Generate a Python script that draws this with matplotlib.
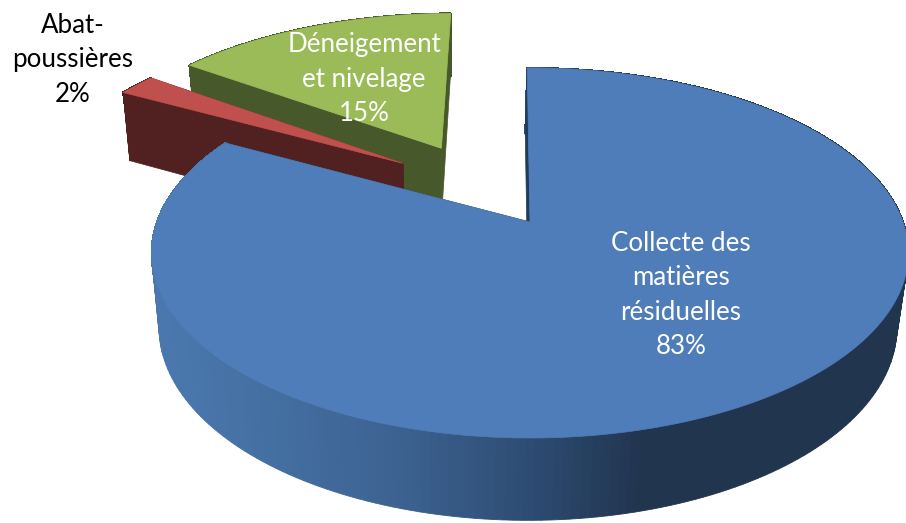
import numpy as np
from matplotlib import pyplot as plt
from matplotlib.colors import to_rgb

plt.rcParams['font.family'] = ['Lato', 'DejaVu Sans']

# slices, clockwise from the top
noms = ['Collecte des\nmatières\nrésiduelles', 'Abat-\npoussières', 'Déneigement\net nivelage']
valeurs = [83, 2, 15]
couleurs_dessus = ['#4f7db9', '#c0504d', '#9bbb59']
couleurs_face = ['#1f3a5f', '#512020', '#47592a']
couleurs_texte = ['white', 'black', 'white']
pos_texte = [(681, 295), (73, 60), (364, 79)]

# how far each slice is pulled out of the pie
ecart_u = [0, -0.36, -0.255]
ecart_v = [0, 0.345, 0.44]

# fake 3d camera, everything in pixels
cx, cy = 530, 222
R = 373
sR = 179.8
k = 0.1676
h = 76
m = 0.025
decal = -2


def dessus(u, v):
    w = 1 + k * v
    return cx + R * u / w, cy - sR * v / w


def dessous(u, v, marge=0):
    w = 1 + k * v + m
    return cx + decal + (R - marge) * u / w, cy + (h - sR * v) / w - marge


def degrade(x):
    # side wall gets darker going right
    pts = [(160, '#4a78ae'), (300, '#426c9e'), (400, '#3c6290'), (540, '#2c4a70'), (640, '#22354f'), (906, '#22354f')]
    xs = [p[0] for p in pts]
    rgb = np.array([to_rgb(p[1]) for p in pts])
    return tuple(np.interp(x, xs, rgb[:, i]) for i in range(3))


fig = plt.figure(figsize=(9.06, 5.23), dpi=100)
ax = fig.add_axes([0, 0, 1, 1])
ax.set_xlim(0, 906)
ax.set_ylim(523, 0)
ax.axis('off')

bornes = np.cumsum([0] + valeurs) * 360 / sum(valeurs)
bornes = bornes - 0.5

# back slices first, the big one on top
for i in [2, 1, 0]:
    a = np.radians(np.linspace(bornes[i], bornes[i + 1], 240))
    u = np.sin(a) + ecart_u[i]
    v = np.cos(a) + ecart_v[i]
    u0, v0 = ecart_u[i], ecart_v[i]

    # outer wall, smooth pass for the edge then a hard pass to hide the seams
    xh, yh = dessus(u, v)
    xb, yb = dessous(u, v)
    xi, yi = dessous(u, v, 1.5)
    for passe in [0, 1]:
        for j in range(len(a) - 1):
            if i == 0:
                c = degrade((xh[j] + xh[j + 1]) / 2)
            else:
                c = couleurs_face[i]
            if passe == 0:
                ax.fill([xh[j], xh[j + 1], xb[j + 1], xb[j]], [yh[j], yh[j + 1], yb[j + 1], yb[j]], color=c, lw=0.6)
            else:
                ax.fill([xh[j], xh[j + 1], xi[j + 1], xi[j]], [yh[j], yh[j + 1], yi[j + 1], yi[j]], facecolor=c,
                        edgecolor=c, lw=0.8, antialiased=False)

    # the two flat cut faces
    for n in [0, -1]:
        xa, ya = dessus(np.array([u0, u[n]]), np.array([v0, v[n]]))
        xc, yc = dessous(np.array([u[n], u0]), np.array([v[n], v0]))
        ax.fill(list(xa) + list(xc), list(ya) + list(yc), color=couleurs_face[i], lw=0.5)

    # top of the slice
    xt, yt = dessus(np.concatenate([[u0], u]), np.concatenate([[v0], v]))
    ax.fill(xt, yt, color=couleurs_dessus[i], lw=0.5)

for i in range(len(valeurs)):
    ax.text(pos_texte[i][0], pos_texte[i][1], noms[i] + '\n' + str(valeurs[i]) + '%', color=couleurs_texte[i],
            fontsize=18.6, ha='center', va='center', linespacing=1.47, clip_on=False)

plt.savefig('out.png', dpi=100)
